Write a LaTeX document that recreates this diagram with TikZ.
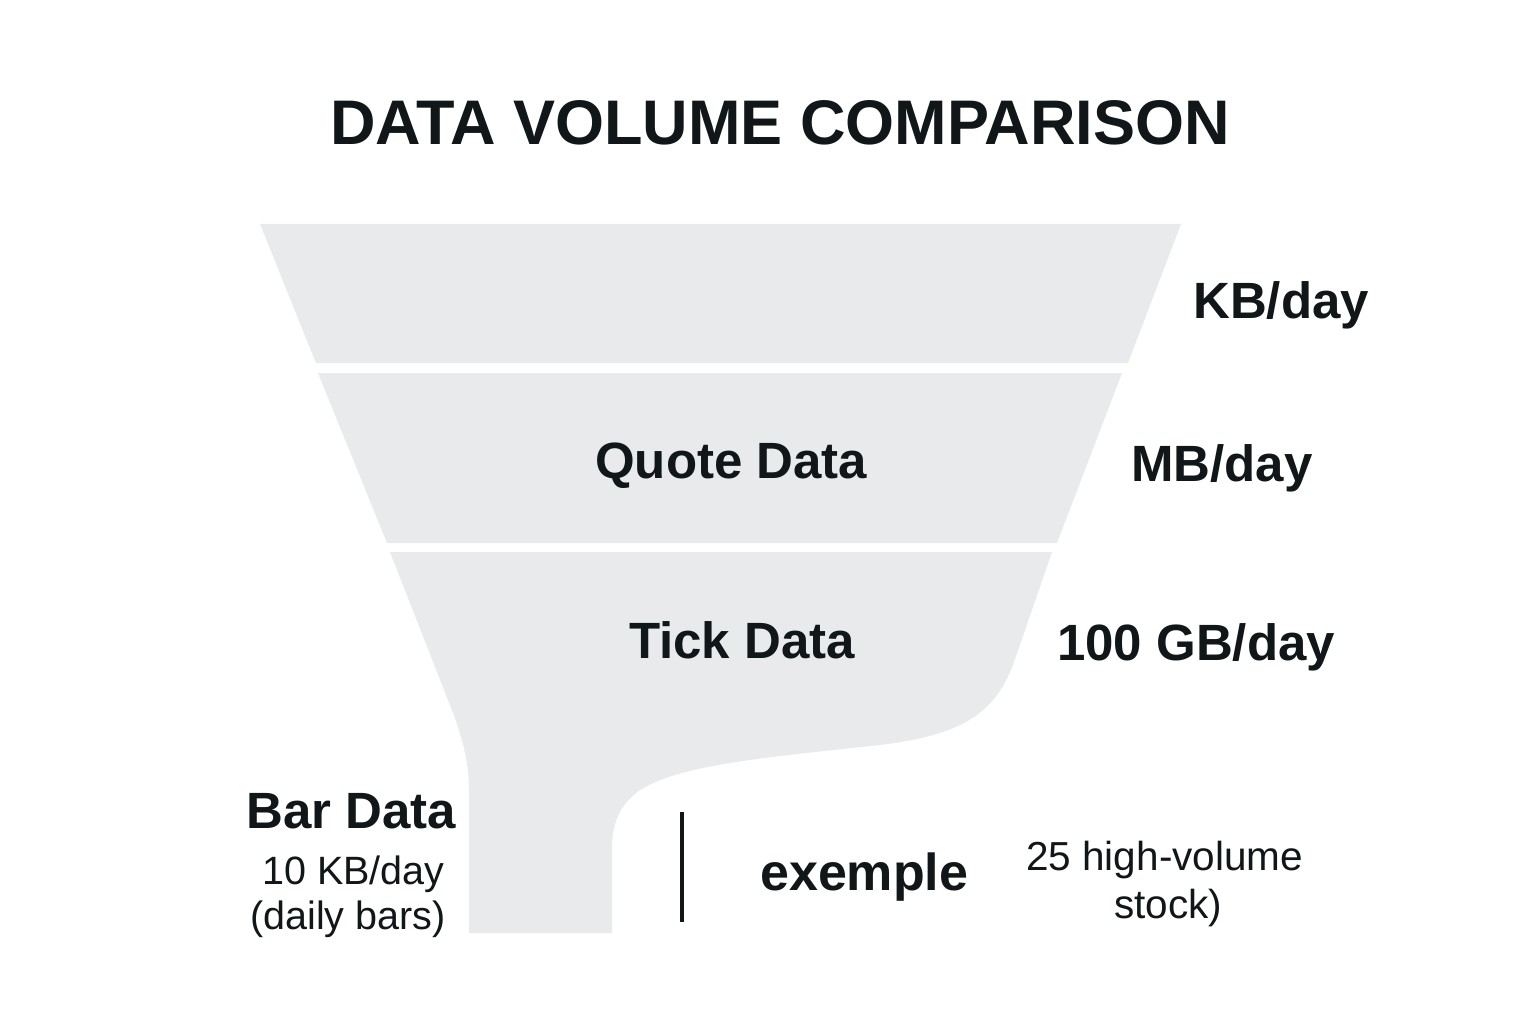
\documentclass[tikz,border=0pt]{standalone}
\usepackage{fontspec}
\setmainfont{Liberation Sans}
\definecolor{band}{HTML}{E8EAEC}
\definecolor{ink}{HTML}{111618}
\begin{document}
\begin{tikzpicture}[x=1pt,y=-1pt,
  lbl/.style={inner sep=0pt,anchor=base west,text=ink,font=\bfseries\fontsize{51}{60}\selectfont},
  small/.style={inner sep=0pt,anchor=base west,text=ink,font=\fontsize{39.5}{47}\selectfont},
  bandfill/.style={fill=band,draw=none}]
\useasboundingbox[fill=white] (0,0) rectangle (1536,1024);
% bands
\path[bandfill] (260,224) -- (1181,224) -- (1128,363) -- (316,363) -- cycle;
\path[bandfill] (318,373) -- (1122,373) -- (1057,543) -- (387,543) -- cycle;
\path[bandfill] (390,552) -- (1052,552) -- (1014,662)
  .. controls (995,715) and (960,735) .. (880,745)
  .. controls (760,758) and (680,765) .. (640,790)
  .. controls (615,808) and (612,830) .. (612,850)
  -- (612,933) -- (469,933) -- (469,790)
  .. controls (469,760) and (462,740) .. (455,718) -- cycle;
% title
\node[inner sep=0pt,anchor=base,text=ink,font=\bfseries\fontsize{63}{74}\selectfont] (title) at (780,145) {DATA VOLUME COMPARISON};
% labels
\node[lbl] (kb) at (1193,318) {KB/day};
\node[lbl] (quote) at (595,478) {Quote Data};
\node[lbl] (mb) at (1131,481) {MB/day};
\node[lbl] (tick) at (629,658) {Tick Data};
\node[lbl] (gb) at (1057,660) {100 GB/day};
\node[lbl] (bar) at (246,828) {Bar Data};
\node[small] (kbd) at (262,884) {10 KB/day};
\node[small] (daily) at (250,929) {(daily bars)};
\node[lbl,font=\bfseries\fontsize{52}{60}\selectfont] (ex) at (760,890) {exemple};
\node[small,font=\fontsize{40.5}{48}\selectfont] (hv) at (1026,870) {25 high-volume};
\node[small,font=\fontsize{40.5}{48}\selectfont] (st) at (1114,918) {stock)};
% vertical bar
\coordinate (vt) at (682,812);
\coordinate (vb) at (682,922);
\draw[ink,line width=4pt] (vt) -- (vb);
\end{tikzpicture}
\end{document}
